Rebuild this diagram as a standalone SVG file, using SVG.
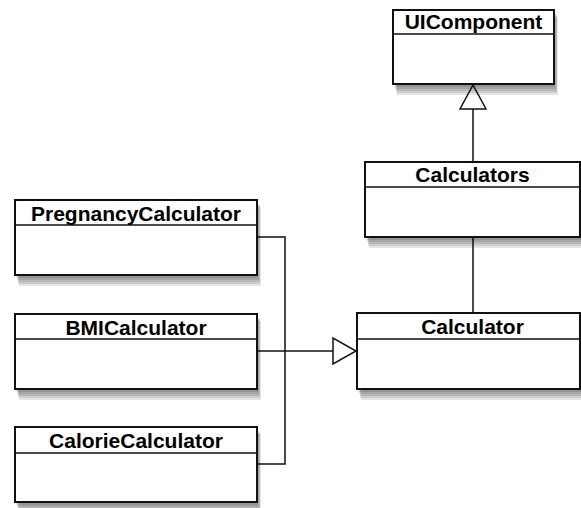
<svg xmlns="http://www.w3.org/2000/svg" width="581" height="508" viewBox="0 0 581 508">
  <defs>
    <style>
      .box { fill: #fff; stroke: #111; stroke-width: 2; }
      .shade rect { fill: #000; fill-opacity: 0.1; }
      .div { stroke: #111; stroke-width: 1.5; }
      .name { font-family: "Liberation Sans", Arial, sans-serif; font-weight: bold; font-size: 21px; fill: #000; text-anchor: middle; }
      .conn { fill: none; stroke: #111; stroke-width: 1.5; }
      .head { fill: #fff; stroke: #111; stroke-width: 1.5; }
    </style>
  </defs>

  <rect width="581" height="508" fill="#fff"/>

  <!-- connectors -->
  <g id="connectors">
    <polygon class="head" points="473,85 460,109 486,109"/>
    <line class="conn" x1="473" y1="109" x2="473" y2="162"/>
    <line class="conn" x1="473" y1="237" x2="473" y2="313"/>
    <polyline class="conn" points="257,237 285,237 285,464 257,464"/>
    <line class="conn" x1="257" y1="351" x2="333" y2="351"/>
    <polygon class="head" points="333,338 333,364 356,351"/>
  </g>

  <!-- classes: translucent offset layers for the drop shadow, then the box -->
  <g id="UIComponent">
    <g class="shade">
      <rect x="394" y="13" width="161" height="74"/>
      <rect x="395" y="14" width="161" height="75"/>
      <rect x="396" y="15" width="161" height="76"/>
      <rect x="396" y="16" width="161" height="77"/>
      <rect x="397" y="17" width="161" height="78"/>
    </g>
    <rect class="box" x="393" y="10" width="161" height="74"/>
    <line class="div" x1="393" y1="34" x2="554" y2="34"/>
    <text class="name" x="473.5" y="29">UIComponent</text>
  </g>

  <g id="Calculators">
    <g class="shade">
      <rect x="366" y="165" width="215" height="75"/>
      <rect x="367" y="166" width="215" height="76"/>
      <rect x="368" y="167" width="215" height="77"/>
      <rect x="368" y="168" width="215" height="78"/>
      <rect x="369" y="169" width="215" height="79"/>
    </g>
    <rect class="box" x="365" y="162" width="215" height="75"/>
    <line class="div" x1="365" y1="187" x2="580" y2="187"/>
    <text class="name" x="472.5" y="182">Calculators</text>
  </g>

  <g id="Calculator">
    <g class="shade">
      <rect x="358" y="316" width="223" height="76"/>
      <rect x="359" y="317" width="223" height="77"/>
      <rect x="360" y="318" width="223" height="78"/>
      <rect x="360" y="319" width="223" height="79"/>
      <rect x="361" y="320" width="223" height="80"/>
    </g>
    <rect class="box" x="357" y="313" width="223" height="76"/>
    <line class="div" x1="357" y1="339" x2="580" y2="339"/>
    <text class="name" x="472.5" y="334">Calculator</text>
  </g>

  <g id="PregnancyCalculator">
    <g class="shade">
      <rect x="16" y="203" width="242" height="75"/>
      <rect x="17" y="204" width="242" height="76"/>
      <rect x="18" y="205" width="242" height="77"/>
      <rect x="18" y="206" width="242" height="78"/>
      <rect x="19" y="207" width="242" height="79"/>
    </g>
    <rect class="box" x="15" y="200" width="242" height="75"/>
    <line class="div" x1="15" y1="225" x2="257" y2="225"/>
    <text class="name" x="136" y="220.5">PregnancyCalculator</text>
  </g>

  <g id="BMICalculator">
    <g class="shade">
      <rect x="16" y="317" width="242" height="75"/>
      <rect x="17" y="318" width="242" height="76"/>
      <rect x="18" y="319" width="242" height="77"/>
      <rect x="18" y="320" width="242" height="78"/>
      <rect x="19" y="321" width="242" height="79"/>
    </g>
    <rect class="box" x="15" y="314" width="242" height="75"/>
    <line class="div" x1="15" y1="339" x2="257" y2="339"/>
    <text class="name" x="136" y="334.5">BMICalculator</text>
  </g>

  <g id="CalorieCalculator">
    <g class="shade">
      <rect x="16" y="430" width="242" height="75"/>
      <rect x="17" y="431" width="242" height="76"/>
      <rect x="18" y="432" width="242" height="77"/>
      <rect x="18" y="433" width="242" height="78"/>
      <rect x="19" y="434" width="242" height="79"/>
    </g>
    <rect class="box" x="15" y="427" width="242" height="75"/>
    <line class="div" x1="15" y1="453" x2="257" y2="453"/>
    <text class="name" x="136" y="448">CalorieCalculator</text>
  </g>
</svg>
